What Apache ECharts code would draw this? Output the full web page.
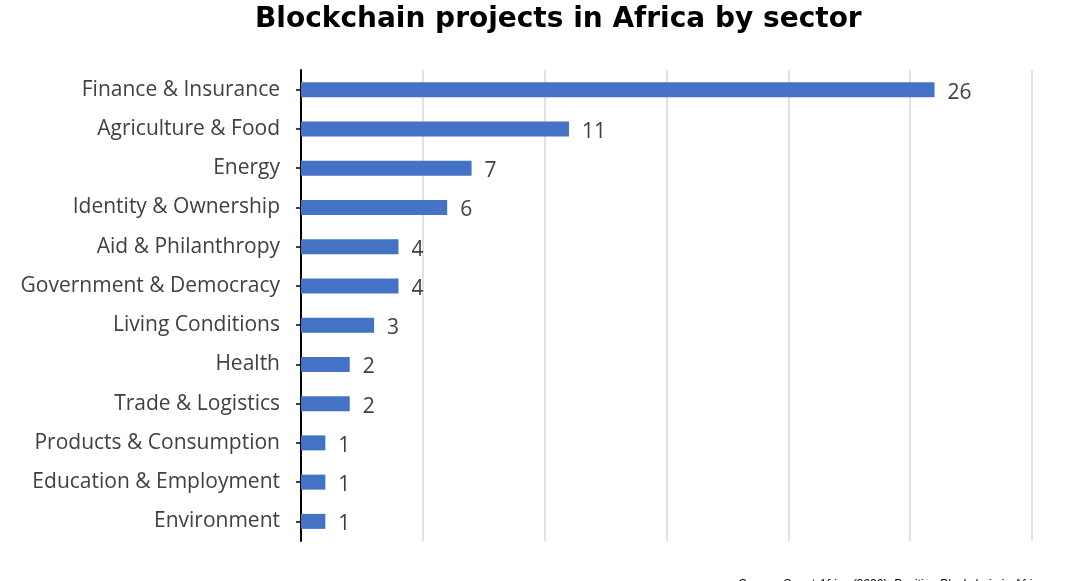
<!DOCTYPE html>
<html><head><meta charset="utf-8">
<script src="https://cdn.jsdelivr.net/npm/echarts@6/dist/echarts.min.js"></script>
<style>html,body{margin:0;padding:0;background:#fff}#c{width:1080px;height:581px}</style>
</head><body><div id="c"></div>
<script>
const categories = ["Finance & Insurance","Agriculture & Food","Energy","Identity & Ownership","Aid & Philanthropy","Government & Democracy","Living Conditions","Health","Trade & Logistics","Products & Consumption","Education & Employment","Environment"];
const values = [26,11,7,6,4,4,3,2,2,1,1,1];
const titleText = "Blockchain projects in Africa by sector";
const sourceText = "Source: Smart Africa (2020), Position Blockchain in Africa";

const chart = echarts.init(document.getElementById('c'));
chart.setOption({
  animation:false,
  title:[{text:titleText,left:250,top:1,textStyle:{fontFamily:'DejaVu Sans',fontWeight:'bold',fontSize:28,color:'#000'}},
         {text:sourceText,left:733,top:574,textStyle:{fontFamily:'Liberation Sans',fontStyle:'italic',fontWeight:'normal',fontSize:12,color:'#000'}}],
  grid:{left:301,right:48,top:70,bottom:40,containLabel:false},
  xAxis:{type:'value',min:0,max:30,interval:5,axisLabel:{show:false},axisLine:{show:false},axisTick:{show:false},
    splitLine:{show:true,lineStyle:{color:'#d9d9d9',width:1.5}}},
  yAxis:{type:'category',inverse:true,data:categories,
    axisLine:{show:true,lineStyle:{color:'#000',width:2}},
    axisTick:{show:true,alignWithLabel:true,length:5,lineStyle:{color:'#000',width:1.5}},
    axisLabel:{fontFamily:'Open Sans',fontSize:21,color:'#404040',margin:21}},
  series:[{type:'bar',data:values,barWidth:15,itemStyle:{color:'#4472C4'},
    label:{show:true,position:'right',distance:13,fontFamily:'Open Sans',fontSize:21,color:'#404040',offset:[0,3]}}]
});
</script></body></html>
